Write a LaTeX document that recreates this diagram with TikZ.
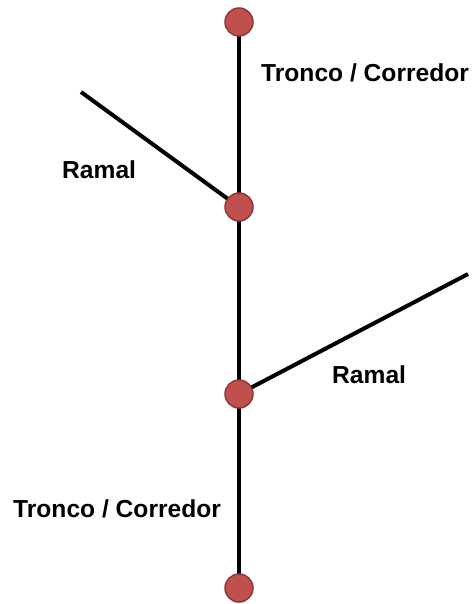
\documentclass[tikz,border=0pt]{standalone}
\usepackage{fontspec}
\setmainfont{Liberation Sans}
\usetikzlibrary{backgrounds}
\definecolor{nodefill}{HTML}{C0504D}
\definecolor{nodeline}{HTML}{8C3A38}
\begin{document}
\begin{tikzpicture}[x=1pt,y=-1pt,
  vertex/.style={circle,fill=nodefill,draw=nodeline,line width=1.5pt,minimum size=28pt,inner sep=0pt},
  edge/.style={line width=4pt,black},
  lbl/.style={font=\fontsize{24.6}{28}\selectfont\bfseries,anchor=base west,inner sep=0pt}]
\useasboundingbox (0,0) rectangle (472,604);
\coordinate (l) at (81,92);
\coordinate (r) at (468,274);
\node[vertex] (n1) at (239,22) {};
\node[vertex] (n2) at (239,207) {};
\node[vertex] (n3) at (239,394) {};
\node[vertex] (n4) at (239,588) {};
\begin{scope}[on background layer]
\draw[edge] (n1.center) -- (n2.center);
\draw[edge] (n2.center) -- (n3.center);
\draw[edge] (n3.center) -- (n4.center);
\draw[edge] (l) -- (n2.center);
\draw[edge] (r) -- (n3.center);
\end{scope}
\node[lbl] (t1) at (261,82) {Tronco / Corredor};
\node[lbl] (t2) at (62,178) {Ramal};
\node[lbl] (t3) at (332,383) {Ramal};
\node[lbl] (t4) at (13,517) {Tronco / Corredor};
\end{tikzpicture}
\end{document}
